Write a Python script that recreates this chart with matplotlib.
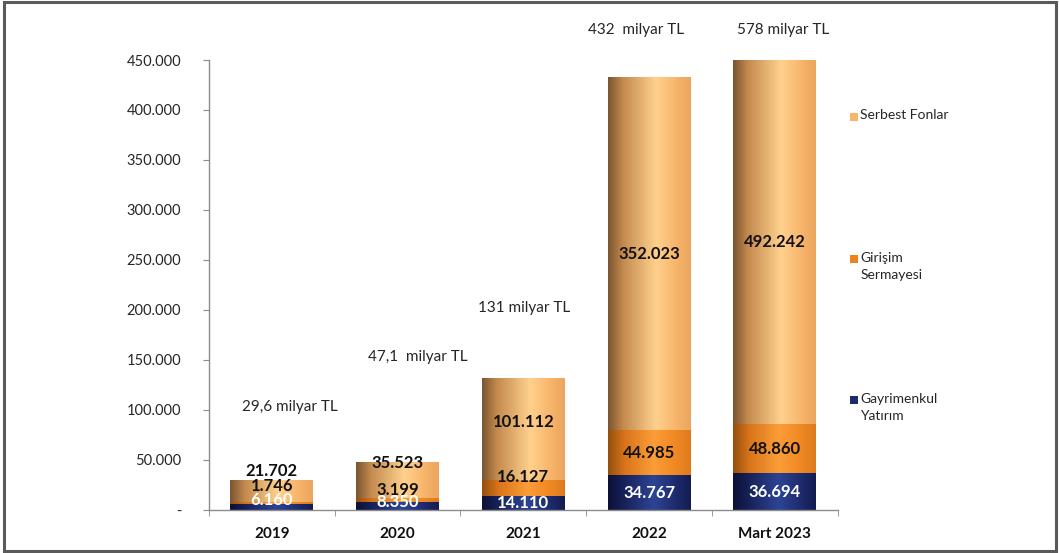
import numpy as np
import matplotlib
matplotlib.use("Agg")
import matplotlib.pyplot as plt
from matplotlib.colors import to_rgb
from matplotlib.patches import Rectangle
from matplotlib.ticker import FuncFormatter, MultipleLocator

plt.rcParams['font.family'] = ['Lato', 'DejaVu Sans']

# ---- data (million TL) ----
categories = ["2019", "2020", "2021", "2022", "Mart 2023"]
gayrimenkul = [6160, 8350, 14110, 34767, 36694]
girisim = [1746, 3199, 16127, 44985, 48860]
serbest = [21702, 35523, 101112, 352023, 492242]
total_labels = ["29,6 milyar TL", "47,1  milyar TL", "131 milyar TL",
                "432  milyar TL", "578 milyar TL"]
series_names = ["Gayrimenkul\nYatırım", "Girişim\nSermayesi", "Serbest Fonlar"]

# ---- styling ----
YMAX = 450000
BAR_W = 0.66
# gradient stops across bar width: (position, colour)
grad_stops = {
    0: [(0.0, "#0c1138"), (0.2, "#18225a"), (0.55, "#2d4494"), (0.8, "#1f2d70"), (1.0, "#141c50")],
    1: [(0.0, "#95500f"), (0.2, "#d9741a"), (0.55, "#fb9d38"), (0.8, "#f28a24"), (1.0, "#dd7a1e")],
    2: [(0.0, "#7a5530"), (0.18, "#c48a4f"), (0.58, "#ffd18d"), (0.85, "#f7b268"), (1.0, "#eaa55f")],
}
legend_colors = ["#1f2a6b", "#f0821e", "#f9b46a"]
label_colors = ["white", "#111111", "#111111"]

# label heights (data units) where segments are too thin for centred text
label_override = {
    (0, 0): 10000, (0, 1): 24000, (0, 2): 39000,
    (1, 0): 7500, (1, 1): 19500, (1, 2): 47000,
    (2, 1): 33000, (2, 2): 88000,
}
# placement of the total annotations: (x offset in categories, y in data units)
total_pos = [(0.14, 103000), (0.16, 153000), (0.01, 202000),
             (-0.10, 480000), (0.07, 480000)]


def gradient_row(stops, n=200):
    pos = np.array([p for p, _ in stops])
    cols = np.array([to_rgb(c) for _, c in stops])
    xs = np.linspace(0, 1, n)
    row = np.stack([np.interp(xs, pos, cols[:, k]) for k in range(3)], axis=1)
    return row[np.newaxis, :, :]


fig = plt.figure(figsize=(10.59, 5.53), dpi=100)
ax = fig.add_axes([0.1974, 0.0778, 0.5935, 0.8137])

series = [gayrimenkul, girisim, serbest]
x = np.arange(len(categories))
ax.set_xlim(-0.5, len(categories) - 0.5)
ax.set_ylim(0, YMAX)

bottoms = np.zeros(len(categories))
for s, vals in enumerate(series):
    img = gradient_row(grad_stops[s])
    for i, v in enumerate(vals):
        y0 = bottoms[i]
        y1 = y0 + v
        x0 = x[i] - BAR_W / 2
        x1 = x[i] + BAR_W / 2
        top_vis = min(y1, YMAX)
        ax.imshow(img, extent=[x0, x1, y0, top_vis], aspect='auto',
                  interpolation='bilinear', zorder=2)
        ly = label_override.get((i, s), (y0 + top_vis) / 2)
        txt = f"{v:,}".replace(",", ".")
        ax.text(x[i], ly, txt, ha='center', va='center', fontsize=12,
                fontweight='bold', color=label_colors[s], zorder=4)
    bottoms += np.array(vals)

for i, lab in enumerate(total_labels):
    dx, ty = total_pos[i]
    ax.text(x[i] + dx, ty, lab, ha='center', va='center', fontsize=11,
            color='#262626', clip_on=False, zorder=4)

# axes styling
for side in ['top', 'right']:
    ax.spines[side].set_visible(False)
for side in ['left', 'bottom']:
    ax.spines[side].set_color('#8c8c8c')
    ax.spines[side].set_linewidth(1.0)

ax.yaxis.set_major_locator(MultipleLocator(50000))
ax.yaxis.set_major_formatter(FuncFormatter(
    lambda v, _: "-" if v == 0 else f"{int(v):,}".replace(",", ".")))
ax.tick_params(axis='y', direction='out', length=4, color='#8c8c8c',
               labelsize=10.5, labelcolor='#262626', pad=16)

ax.set_xticks(x)
ax.set_xticklabels(categories, fontsize=11, fontweight='bold', color='#111111')
ax.tick_params(axis='x', length=0, pad=12)
ax.set_xticks(np.arange(-0.5, len(categories)), minor=True)
ax.tick_params(axis='x', which='minor', direction='out', length=4, color='#8c8c8c')

# legend as free text with square markers
legend_y = [0.277, 0.533, 0.790]  # figure fractions (bottom series first)
for s in range(3):
    fig.patches.append(Rectangle((0.8025, legend_y[s] - 0.008), 0.0075, 0.0145,
                                 transform=fig.transFigure,
                                 facecolor=legend_colors[s], edgecolor='none'))
    fig.text(0.8125, legend_y[s] + 0.012, series_names[s], ha='left', va='top',
             fontsize=10, color='#262626', linespacing=1.5)

# outer frame
fig.patches.append(Rectangle((0.004, 0.003), 0.993, 0.994, transform=fig.transFigure,
                             fill=False, edgecolor='#5a5a5a', linewidth=2.2))

fig.savefig("out.png", dpi=100)
